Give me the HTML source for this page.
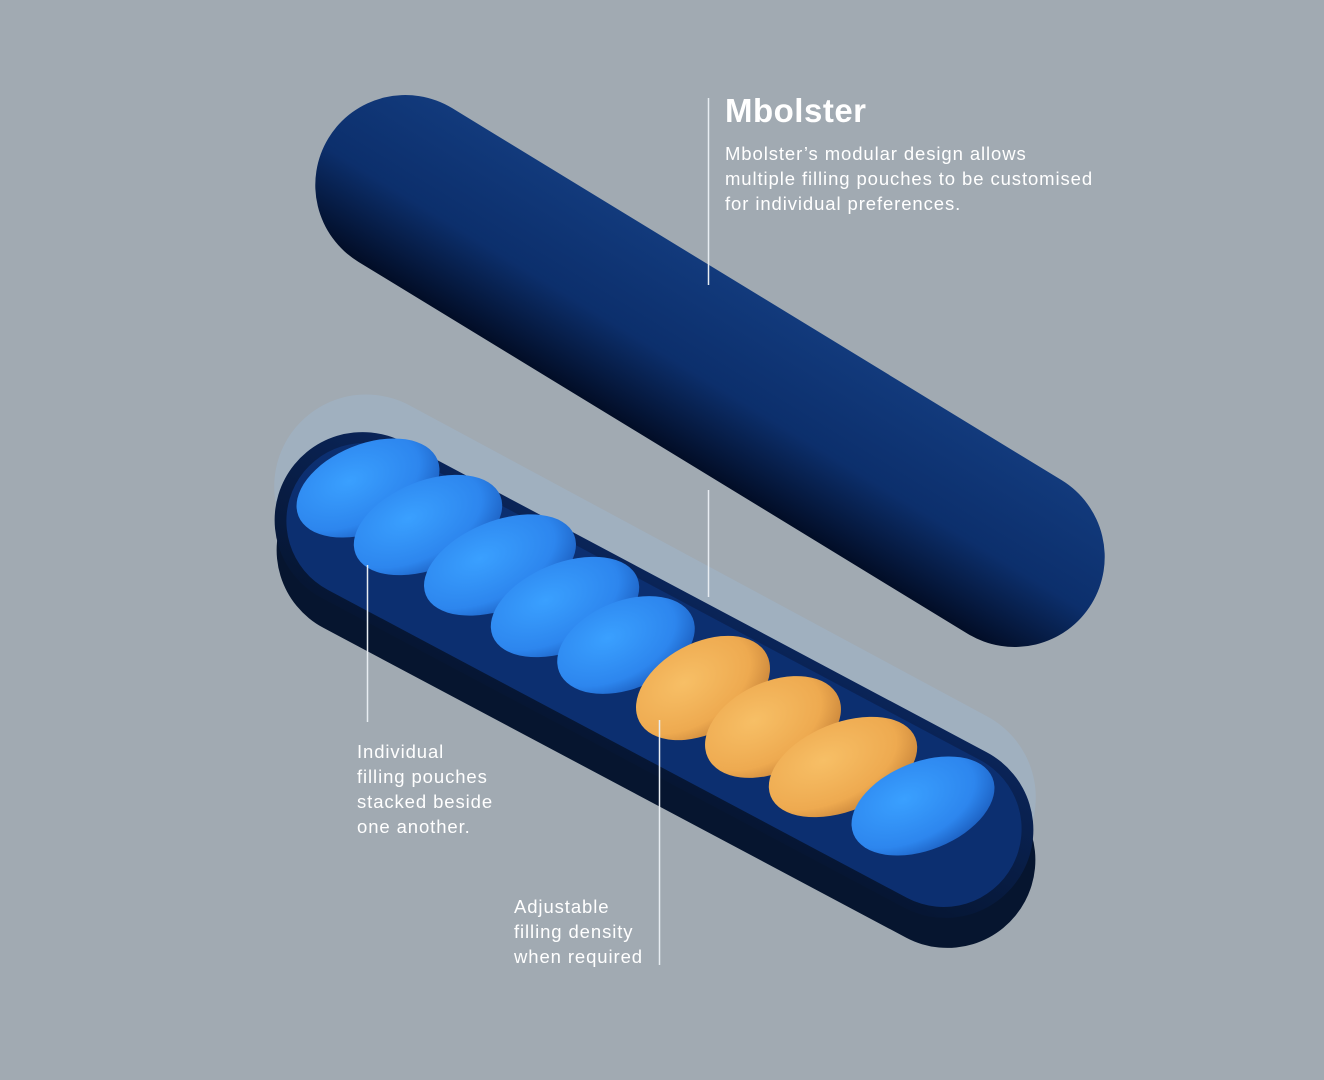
<!DOCTYPE html>
<html><head><meta charset="utf-8"><style>
html,body{margin:0;padding:0}
body{width:1324px;height:1080px;background:#a1aab2;position:relative;overflow:hidden;font-family:"Liberation Sans",sans-serif;color:#fff}
svg{position:absolute;left:0;top:0}
.t{position:absolute;font-size:18.5px;line-height:25px;letter-spacing:0.9px}
h1{position:absolute;left:725px;top:92px;margin:0;font-size:33px;font-weight:bold;letter-spacing:0.5px}
</style></head><body>
<svg width="1324" height="1080" viewBox="0 0 1324 1080">
<defs>
<linearGradient id="cap" x1="0" y1="0" x2="0" y2="1">
<stop offset="0" stop-color="#123a7c"/><stop offset="0.55" stop-color="#0c2f6c"/><stop offset="1" stop-color="#020d26"/></linearGradient>
<linearGradient id="tray" x1="0" y1="0" x2="0" y2="1">
<stop offset="0" stop-color="#0a2458"/><stop offset="1" stop-color="#061633"/></linearGradient>
<radialGradient id="bl" cx="0.4" cy="0.35" r="0.7"><stop offset="0" stop-color="#3aa0ff"/><stop offset="0.7" stop-color="#2d86ee"/><stop offset="1" stop-color="#1c5fc0"/></radialGradient>
<radialGradient id="or" cx="0.4" cy="0.35" r="0.7"><stop offset="0" stop-color="#f7bf66"/><stop offset="0.7" stop-color="#eeaa50"/><stop offset="1" stop-color="#c9853a"/></radialGradient>
</defs>
<!-- top capsule -->
<g transform="translate(710,371) rotate(31.4)">
<rect x="-447" y="-90" width="894" height="180" rx="90" fill="url(#cap)"/>
</g>
<!-- translucent lid -->
<g transform="translate(655,642) rotate(28.3)">
<rect x="-420" y="-92" width="840" height="184" rx="92" fill="#9fb2c4" opacity="0.7"/>
</g>
<!-- tray body (thickness) -->
<g transform="translate(656,705) rotate(28)">
<rect x="-418" y="-88" width="836" height="176" rx="88" fill="#06152f"/>
</g>
<!-- tray top -->
<g transform="translate(654,675) rotate(28)">
<rect x="-418" y="-88" width="836" height="176" rx="88" fill="url(#tray)"/>
<rect x="-406" y="-78" width="812" height="156" rx="78" fill="#0c2f70"/>
</g>
<!-- pouches -->
<g>
<ellipse cx="368" cy="488" rx="75" ry="44" transform="rotate(-22 368 488)" fill="url(#bl)"/>
<ellipse cx="428" cy="525" rx="78" ry="44" transform="rotate(-22 428 525)" fill="url(#bl)"/>
<ellipse cx="500" cy="565" rx="80" ry="44" transform="rotate(-22 500 565)" fill="url(#bl)"/>
<ellipse cx="565" cy="607" rx="78" ry="44" transform="rotate(-22 565 607)" fill="url(#bl)"/>
<ellipse cx="626" cy="645" rx="72" ry="44" transform="rotate(-22 626 645)" fill="url(#bl)"/>
<ellipse cx="703" cy="688" rx="72" ry="45" transform="rotate(-28 703 688)" fill="url(#or)"/>
<ellipse cx="773" cy="727" rx="72" ry="45" transform="rotate(-25 773 727)" fill="url(#or)"/>
<ellipse cx="843" cy="767" rx="78" ry="44" transform="rotate(-22 843 767)" fill="url(#or)"/>
<ellipse cx="923" cy="806" rx="75" ry="44" transform="rotate(-22 923 806)" fill="url(#bl)"/>
</g>
<g stroke="#e8edf2" stroke-width="1.5">
<line x1="708.5" y1="98" x2="708.5" y2="285"/>
<line x1="708.5" y1="490" x2="708.5" y2="597"/>
<line x1="367.5" y1="565" x2="367.5" y2="722"/>
<line x1="659.5" y1="720" x2="659.5" y2="965"/>
</g>
</svg>
<h1>Mbolster</h1>
<div class="t" style="left:725px;top:141px">Mbolster’s modular design allows<br>multiple filling pouches to be customised<br>for individual preferences.</div>
<div class="t" style="left:357px;top:739px">Individual<br>filling pouches<br>stacked beside<br>one another.</div>
<div class="t" style="left:514px;top:894px">Adjustable<br>filling density<br>when required</div>
</body></html>
